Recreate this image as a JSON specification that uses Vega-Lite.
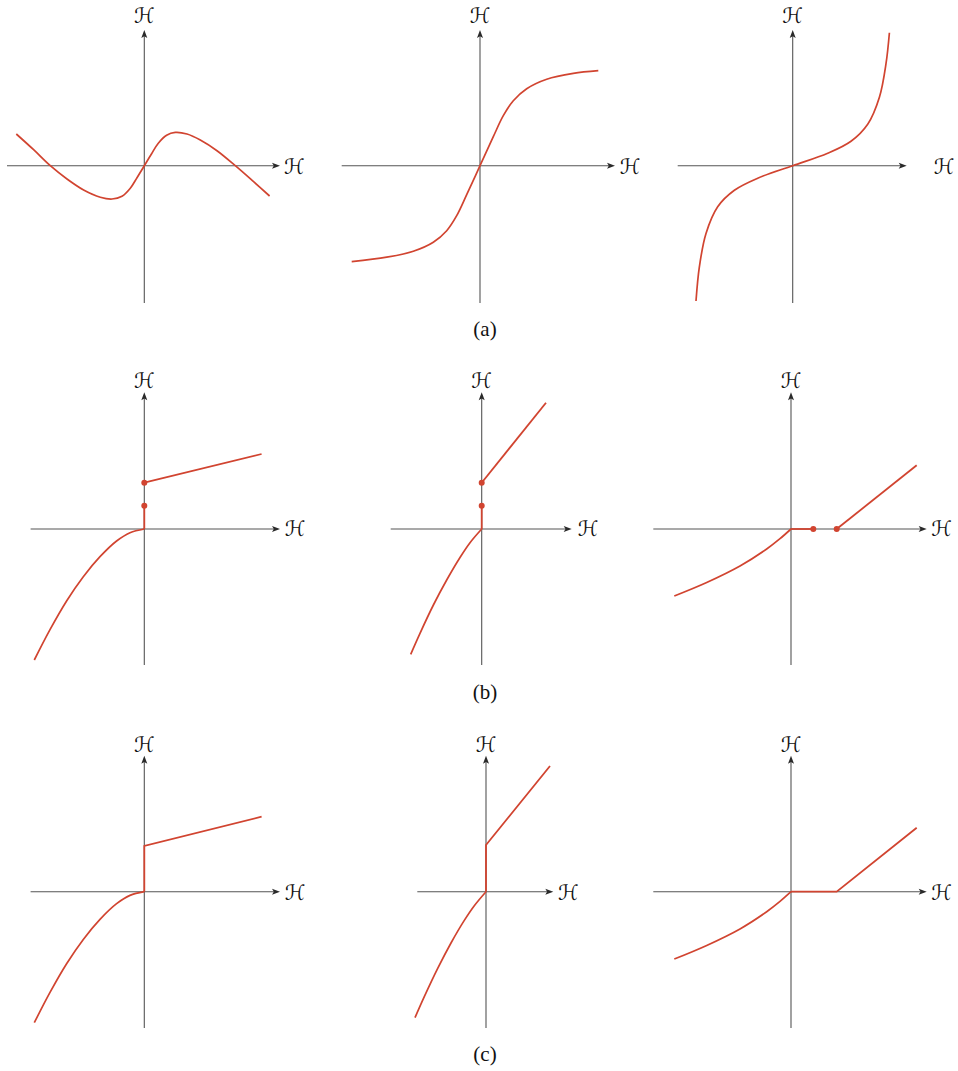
{
  "$schema": "https://vega.github.io/schema/vega-lite/v6.json",
  "padding": 0,
  "spacing": 0,
  "config": {"view": {"stroke": null}, "background": "white"},
  "datasets": {
    "a1": [
      {"k":"ax","x":-1.373,"y":0,"x2":1.33,"y2":0},{"k":"ax","x":0,"y":-1.373,"x2":0,"y2":1.33},
      {"k":"ar","x":1.317,"y":0},{"k":"au","x":0,"y":1.317},
      {"k":"lb","x":0,"y":1.49,"t":"ℋ"},{"k":"lb","x":1.5,"y":-0.02,"t":"ℋ"},
      {"k":"cv","s":1,"i":1,"x":-1.28,"y":0.317},{"k":"cv","s":1,"i":2,"x":-1.107,"y":0.16},{"k":"cv","s":1,"i":3,"x":-0.94,"y":0},
      {"k":"cv","s":1,"i":4,"x":-0.773,"y":-0.133},{"k":"cv","s":1,"i":5,"x":-0.607,"y":-0.243},{"k":"cv","s":1,"i":6,"x":-0.44,"y":-0.315},
      {"k":"cv","s":1,"i":7,"x":-0.323,"y":-0.333},{"k":"cv","s":1,"i":8,"x":-0.223,"y":-0.305},{"k":"cv","s":1,"i":9,"x":-0.14,"y":-0.225},
      {"k":"cv","s":1,"i":10,"x":-0.073,"y":-0.12},{"k":"cv","s":1,"i":11,"x":0,"y":0},{"k":"cv","s":1,"i":12,"x":0.073,"y":0.12},
      {"k":"cv","s":1,"i":13,"x":0.14,"y":0.225},{"k":"cv","s":1,"i":14,"x":0.223,"y":0.305},{"k":"cv","s":1,"i":15,"x":0.31,"y":0.333},
      {"k":"cv","s":1,"i":16,"x":0.427,"y":0.317},{"k":"cv","s":1,"i":17,"x":0.56,"y":0.257},{"k":"cv","s":1,"i":18,"x":0.727,"y":0.15},
      {"k":"cv","s":1,"i":19,"x":0.91,"y":0},{"k":"cv","s":1,"i":20,"x":1.093,"y":-0.16},{"k":"cv","s":1,"i":21,"x":1.253,"y":-0.303}
    ],
    "a2": [
      {"k":"ax","x":-1.383,"y":0,"x2":1.32,"y2":0},{"k":"ax","x":0,"y":-1.373,"x2":0,"y2":1.33},
      {"k":"ar","x":1.31,"y":0},{"k":"au","x":0,"y":1.317},
      {"k":"lb","x":0,"y":1.49,"t":"ℋ"},{"k":"lb","x":1.5,"y":-0.02,"t":"ℋ"},
      {"k":"cap","x":0.05,"y":-1.643,"t":"(a)"},
      {"k":"cv","s":1,"i":1,"x":-1.283,"y":-0.96},{"k":"cv","s":1,"i":2,"x":-0.933,"y":-0.915},{"k":"cv","s":1,"i":3,"x":-0.667,"y":-0.855},
      {"k":"cv","s":1,"i":4,"x":-0.467,"y":-0.765},{"k":"cv","s":1,"i":5,"x":-0.333,"y":-0.65},{"k":"cv","s":1,"i":6,"x":-0.233,"y":-0.5},
      {"k":"cv","s":1,"i":7,"x":-0.133,"y":-0.29},{"k":"cv","s":1,"i":8,"x":0,"y":0},{"k":"cv","s":1,"i":9,"x":0.133,"y":0.29},
      {"k":"cv","s":1,"i":10,"x":0.233,"y":0.5},{"k":"cv","s":1,"i":11,"x":0.333,"y":0.65},{"k":"cv","s":1,"i":12,"x":0.467,"y":0.77},
      {"k":"cv","s":1,"i":13,"x":0.667,"y":0.865},{"k":"cv","s":1,"i":14,"x":0.933,"y":0.923},{"k":"cv","s":1,"i":15,"x":1.183,"y":0.95}
    ],
    "a3": [
      {"k":"ax","x":-1.15,"y":0,"x2":1.11,"y2":0},{"k":"ax","x":0,"y":-1.373,"x2":0,"y2":1.33},
      {"k":"ar","x":1.10,"y":0},{"k":"au","x":0,"y":1.317},
      {"k":"lb","x":0,"y":1.49,"t":"ℋ"},{"k":"lb","x":1.513,"y":-0.02,"t":"ℋ"},
      {"k":"cv","s":1,"i":1,"x":-0.967,"y":-1.353},{"k":"cv","s":1,"i":2,"x":-0.933,"y":-1.01},{"k":"cv","s":1,"i":3,"x":-0.867,"y":-0.677},
      {"k":"cv","s":1,"i":4,"x":-0.75,"y":-0.41},{"k":"cv","s":1,"i":5,"x":-0.583,"y":-0.245},{"k":"cv","s":1,"i":6,"x":-0.35,"y":-0.125},
      {"k":"cv","s":1,"i":7,"x":0,"y":0},{"k":"cv","s":1,"i":8,"x":0.35,"y":0.125},{"k":"cv","s":1,"i":9,"x":0.583,"y":0.245},
      {"k":"cv","s":1,"i":10,"x":0.75,"y":0.415},{"k":"cv","s":1,"i":11,"x":0.867,"y":0.685},{"k":"cv","s":1,"i":12,"x":0.933,"y":1.02},
      {"k":"cv","s":1,"i":13,"x":0.967,"y":1.33}
    ],
    "b1": [
      {"k":"ax","x":-1.137,"y":0,"x2":1.33,"y2":0},{"k":"ax","x":0,"y":-1.36,"x2":0,"y2":1.34},
      {"k":"ar","x":1.317,"y":0},{"k":"au","x":0,"y":1.327},
      {"k":"lb","x":0,"y":1.47,"t":"ℋ"},{"k":"lb","x":1.507,"y":-0.01,"t":"ℋ"},
      {"k":"cv","s":1,"i":1,"x":-1.10,"y":-1.31},{"k":"cv","s":1,"i":2,"x":-0.943,"y":-1.007},{"k":"cv","s":1,"i":3,"x":-0.777,"y":-0.72},
      {"k":"cv","s":1,"i":4,"x":-0.61,"y":-0.477},{"k":"cv","s":1,"i":5,"x":-0.443,"y":-0.277},{"k":"cv","s":1,"i":6,"x":-0.277,"y":-0.12},
      {"k":"cv","s":1,"i":7,"x":-0.143,"y":-0.037},{"k":"cv","s":1,"i":8,"x":0,"y":0},
      {"k":"ln","s":2,"i":1,"x":0,"y":0},{"k":"ln","s":2,"i":2,"x":0,"y":0.233},
      {"k":"ln","s":3,"i":1,"x":0,"y":0.463},{"k":"ln","s":3,"i":2,"x":1.173,"y":0.75},
      {"k":"dot","x":0,"y":0.233},{"k":"dot","x":0,"y":0.463}
    ],
    "b2": [
      {"k":"ax","x":-0.91,"y":0,"x2":0.87,"y2":0},{"k":"ax","x":0,"y":-1.36,"x2":0,"y2":1.34},
      {"k":"ar","x":0.86,"y":0},{"k":"au","x":0,"y":1.327},
      {"k":"lb","x":0,"y":1.47,"t":"ℋ"},{"k":"lb","x":1.063,"y":-0.01,"t":"ℋ"},
      {"k":"cap","x":0.033,"y":-1.64,"t":"(b)"},
      {"k":"cv","s":1,"i":1,"x":-0.71,"y":-1.253},{"k":"cv","s":1,"i":2,"x":-0.617,"y":-1.043},{"k":"cv","s":1,"i":3,"x":-0.483,"y":-0.76},
      {"k":"cv","s":1,"i":4,"x":-0.35,"y":-0.51},{"k":"cv","s":1,"i":5,"x":-0.217,"y":-0.285},{"k":"cv","s":1,"i":6,"x":-0.117,"y":-0.137},
      {"k":"cv","s":1,"i":7,"x":0,"y":0},
      {"k":"ln","s":2,"i":1,"x":0,"y":0},{"k":"ln","s":2,"i":2,"x":0,"y":0.233},
      {"k":"ln","s":3,"i":1,"x":0,"y":0.463},{"k":"ln","s":3,"i":2,"x":0.643,"y":1.263},
      {"k":"dot","x":0,"y":0.233},{"k":"dot","x":0,"y":0.463}
    ],
    "b3": [
      {"k":"ax","x":-1.377,"y":0,"x2":1.33,"y2":0},{"k":"ax","x":0,"y":-1.36,"x2":0,"y2":1.34},
      {"k":"ar","x":1.317,"y":0},{"k":"au","x":0,"y":1.327},
      {"k":"lb","x":0,"y":1.47,"t":"ℋ"},{"k":"lb","x":1.507,"y":-0.01,"t":"ℋ"},
      {"k":"cv","s":1,"i":1,"x":-1.167,"y":-0.67},{"k":"cv","s":1,"i":2,"x":-0.843,"y":-0.535},{"k":"cv","s":1,"i":3,"x":-0.51,"y":-0.37},
      {"k":"cv","s":1,"i":4,"x":-0.243,"y":-0.2},{"k":"cv","s":1,"i":5,"x":-0.11,"y":-0.097},{"k":"cv","s":1,"i":6,"x":0,"y":0},
      {"k":"ln","s":2,"i":1,"x":0,"y":0},{"k":"ln","s":2,"i":2,"x":0.223,"y":0},
      {"k":"ln","s":3,"i":1,"x":0.457,"y":0},{"k":"ln","s":3,"i":2,"x":1.257,"y":0.637},
      {"k":"dot","x":0.223,"y":0},{"k":"dot","x":0.457,"y":0}
    ],
    "c1": [
      {"k":"ax","x":-1.137,"y":0,"x2":1.33,"y2":0},{"k":"ax","x":0,"y":-1.363,"x2":0,"y2":1.33},
      {"k":"ar","x":1.317,"y":0},{"k":"au","x":0,"y":1.32},
      {"k":"lb","x":0,"y":1.46,"t":"ℋ"},{"k":"lb","x":1.507,"y":-0.02,"t":"ℋ"},
      {"k":"cv","s":1,"i":1,"x":-1.10,"y":-1.31},{"k":"cv","s":1,"i":2,"x":-0.943,"y":-1.007},{"k":"cv","s":1,"i":3,"x":-0.777,"y":-0.72},
      {"k":"cv","s":1,"i":4,"x":-0.61,"y":-0.477},{"k":"cv","s":1,"i":5,"x":-0.443,"y":-0.277},{"k":"cv","s":1,"i":6,"x":-0.277,"y":-0.12},
      {"k":"cv","s":1,"i":7,"x":-0.143,"y":-0.037},{"k":"cv","s":1,"i":8,"x":0,"y":0},
      {"k":"ln","s":2,"i":1,"x":0,"y":0},{"k":"ln","s":2,"i":2,"x":0,"y":0.457},{"k":"ln","s":2,"i":3,"x":1.173,"y":0.75}
    ],
    "c2": [
      {"k":"ax","x":-0.687,"y":0,"x2":0.643,"y2":0},{"k":"ax","x":0,"y":-1.363,"x2":0,"y2":1.33},
      {"k":"ar","x":0.633,"y":0},{"k":"au","x":0,"y":1.32},
      {"k":"lb","x":0,"y":1.46,"t":"ℋ"},{"k":"lb","x":0.823,"y":-0.02,"t":"ℋ"},
      {"k":"cap","x":-0.01,"y":-1.633,"t":"(c)"},
      {"k":"cv","s":1,"i":1,"x":-0.71,"y":-1.26},{"k":"cv","s":1,"i":2,"x":-0.617,"y":-1.05},{"k":"cv","s":1,"i":3,"x":-0.483,"y":-0.767},
      {"k":"cv","s":1,"i":4,"x":-0.35,"y":-0.513},{"k":"cv","s":1,"i":5,"x":-0.217,"y":-0.287},{"k":"cv","s":1,"i":6,"x":-0.117,"y":-0.14},
      {"k":"cv","s":1,"i":7,"x":0,"y":0},
      {"k":"ln","s":2,"i":1,"x":0,"y":0},{"k":"ln","s":2,"i":2,"x":0,"y":0.467},{"k":"ln","s":2,"i":3,"x":0.64,"y":1.257}
    ],
    "c3": [
      {"k":"ax","x":-1.377,"y":0,"x2":1.33,"y2":0},{"k":"ax","x":0,"y":-1.363,"x2":0,"y2":1.33},
      {"k":"ar","x":1.317,"y":0},{"k":"au","x":0,"y":1.32},
      {"k":"lb","x":0,"y":1.46,"t":"ℋ"},{"k":"lb","x":1.507,"y":-0.02,"t":"ℋ"},
      {"k":"cv","s":1,"i":1,"x":-1.167,"y":-0.673},{"k":"cv","s":1,"i":2,"x":-0.843,"y":-0.537},{"k":"cv","s":1,"i":3,"x":-0.51,"y":-0.372},
      {"k":"cv","s":1,"i":4,"x":-0.243,"y":-0.2},{"k":"cv","s":1,"i":5,"x":-0.11,"y":-0.097},{"k":"cv","s":1,"i":6,"x":0,"y":0},
      {"k":"ln","s":2,"i":1,"x":0,"y":0},{"k":"ln","s":2,"i":2,"x":0.457,"y":0},{"k":"ln","s":2,"i":3,"x":1.257,"y":0.64}
    ]
  },
  "vconcat": [
    {"spacing": 0, "hconcat": [
      {"width":320,"height":350,"data":{"name":"a1"},
       "encoding":{"x":{"field":"x","type":"quantitative","axis":null,"scale":{"domain":[-1.443,1.757],"nice":false,"zero":false}},
                   "y":{"field":"y","type":"quantitative","axis":null,"scale":{"domain":[-1.843,1.657],"nice":false,"zero":false}}},
       "layer":[
        {"transform":[{"filter":"datum.k=='ax'"}],"mark":{"type":"rule","color":"#555555","strokeWidth":1.1},"encoding":{"x2":{"field":"x2"},"y2":{"field":"y2"}}},
        {"transform":[{"filter":"datum.k=='ar'"}],"mark":{"type":"point","filled":true,"color":"#2a2a2a","opacity":1,"size":64,"shape":"M1,0L-1,-0.75L-0.55,0L-1,0.75Z"}},
        {"transform":[{"filter":"datum.k=='au'"}],"mark":{"type":"point","filled":true,"color":"#2a2a2a","opacity":1,"size":64,"shape":"M0,-1L-0.75,1L0,0.55L0.75,1Z"}},
        {"transform":[{"filter":"datum.k=='cv'"}],"mark":{"type":"line","color":"#d14430","strokeWidth":1.7,"interpolate":"catmull-rom"},"encoding":{"detail":{"field":"s"},"order":{"field":"i","type":"quantitative"}}},
        {"transform":[{"filter":"datum.k=='lb'"}],"mark":{"type":"text","font":"DejaVu Sans","fontSize":21,"color":"#111111","align":"center","baseline":"middle"},"encoding":{"text":{"field":"t"}}}
       ]},
      {"width":320,"height":350,"data":{"name":"a2"},
       "encoding":{"x":{"field":"x","type":"quantitative","axis":null,"scale":{"domain":[-1.6,1.6],"nice":false,"zero":false}},
                   "y":{"field":"y","type":"quantitative","axis":null,"scale":{"domain":[-1.843,1.657],"nice":false,"zero":false}}},
       "layer":[
        {"transform":[{"filter":"datum.k=='ax'"}],"mark":{"type":"rule","color":"#555555","strokeWidth":1.1},"encoding":{"x2":{"field":"x2"},"y2":{"field":"y2"}}},
        {"transform":[{"filter":"datum.k=='ar'"}],"mark":{"type":"point","filled":true,"color":"#2a2a2a","opacity":1,"size":64,"shape":"M1,0L-1,-0.75L-0.55,0L-1,0.75Z"}},
        {"transform":[{"filter":"datum.k=='au'"}],"mark":{"type":"point","filled":true,"color":"#2a2a2a","opacity":1,"size":64,"shape":"M0,-1L-0.75,1L0,0.55L0.75,1Z"}},
        {"transform":[{"filter":"datum.k=='cv'"}],"mark":{"type":"line","color":"#d14430","strokeWidth":1.7,"interpolate":"catmull-rom"},"encoding":{"detail":{"field":"s"},"order":{"field":"i","type":"quantitative"}}},
        {"transform":[{"filter":"datum.k=='lb'"}],"mark":{"type":"text","font":"DejaVu Sans","fontSize":21,"color":"#111111","align":"center","baseline":"middle"},"encoding":{"text":{"field":"t"}}},
        {"transform":[{"filter":"datum.k=='cap'"}],"mark":{"type":"text","font":"Liberation Serif, Times New Roman, serif","fontSize":21,"color":"#111111","align":"center","baseline":"middle"},"encoding":{"text":{"field":"t"}}}
       ]},
      {"width":318,"height":350,"data":{"name":"a3"},
       "encoding":{"x":{"field":"x","type":"quantitative","axis":null,"scale":{"domain":[-1.517,1.663],"nice":false,"zero":false}},
                   "y":{"field":"y","type":"quantitative","axis":null,"scale":{"domain":[-1.843,1.657],"nice":false,"zero":false}}},
       "layer":[
        {"transform":[{"filter":"datum.k=='ax'"}],"mark":{"type":"rule","color":"#555555","strokeWidth":1.1},"encoding":{"x2":{"field":"x2"},"y2":{"field":"y2"}}},
        {"transform":[{"filter":"datum.k=='ar'"}],"mark":{"type":"point","filled":true,"color":"#2a2a2a","opacity":1,"size":64,"shape":"M1,0L-1,-0.75L-0.55,0L-1,0.75Z"}},
        {"transform":[{"filter":"datum.k=='au'"}],"mark":{"type":"point","filled":true,"color":"#2a2a2a","opacity":1,"size":64,"shape":"M0,-1L-0.75,1L0,0.55L0.75,1Z"}},
        {"transform":[{"filter":"datum.k=='cv'"}],"mark":{"type":"line","color":"#d14430","strokeWidth":1.7,"interpolate":"catmull-rom"},"encoding":{"detail":{"field":"s"},"order":{"field":"i","type":"quantitative"}}},
        {"transform":[{"filter":"datum.k=='lb'"}],"mark":{"type":"text","font":"DejaVu Sans","fontSize":21,"color":"#111111","align":"center","baseline":"middle"},"encoding":{"text":{"field":"t"}}}
       ]}
    ]},
    {"spacing": 0, "hconcat": [
      {"width":320,"height":362,"data":{"name":"b1"},
       "encoding":{"x":{"field":"x","type":"quantitative","axis":null,"scale":{"domain":[-1.443,1.757],"nice":false,"zero":false}},
                   "y":{"field":"y","type":"quantitative","axis":null,"scale":{"domain":[-1.83,1.79],"nice":false,"zero":false}}},
       "layer":[
        {"transform":[{"filter":"datum.k=='ax'"}],"mark":{"type":"rule","color":"#555555","strokeWidth":1.1},"encoding":{"x2":{"field":"x2"},"y2":{"field":"y2"}}},
        {"transform":[{"filter":"datum.k=='ar'"}],"mark":{"type":"point","filled":true,"color":"#2a2a2a","opacity":1,"size":64,"shape":"M1,0L-1,-0.75L-0.55,0L-1,0.75Z"}},
        {"transform":[{"filter":"datum.k=='au'"}],"mark":{"type":"point","filled":true,"color":"#2a2a2a","opacity":1,"size":64,"shape":"M0,-1L-0.75,1L0,0.55L0.75,1Z"}},
        {"transform":[{"filter":"datum.k=='cv'"}],"mark":{"type":"line","color":"#d14430","strokeWidth":1.7,"interpolate":"catmull-rom"},"encoding":{"detail":{"field":"s"},"order":{"field":"i","type":"quantitative"}}},
        {"transform":[{"filter":"datum.k=='ln'"}],"mark":{"type":"line","color":"#d14430","strokeWidth":1.8},"encoding":{"detail":{"field":"s"},"order":{"field":"i","type":"quantitative"}}},
        {"transform":[{"filter":"datum.k=='dot'"}],"mark":{"type":"point","filled":true,"color":"#d14430","opacity":1,"size":36}},
        {"transform":[{"filter":"datum.k=='lb'"}],"mark":{"type":"text","font":"DejaVu Sans","fontSize":21,"color":"#111111","align":"center","baseline":"middle"},"encoding":{"text":{"field":"t"}}}
       ]},
      {"width":320,"height":362,"data":{"name":"b2"},
       "encoding":{"x":{"field":"x","type":"quantitative","axis":null,"scale":{"domain":[-1.617,1.583],"nice":false,"zero":false}},
                   "y":{"field":"y","type":"quantitative","axis":null,"scale":{"domain":[-1.83,1.79],"nice":false,"zero":false}}},
       "layer":[
        {"transform":[{"filter":"datum.k=='ax'"}],"mark":{"type":"rule","color":"#555555","strokeWidth":1.1},"encoding":{"x2":{"field":"x2"},"y2":{"field":"y2"}}},
        {"transform":[{"filter":"datum.k=='ar'"}],"mark":{"type":"point","filled":true,"color":"#2a2a2a","opacity":1,"size":64,"shape":"M1,0L-1,-0.75L-0.55,0L-1,0.75Z"}},
        {"transform":[{"filter":"datum.k=='au'"}],"mark":{"type":"point","filled":true,"color":"#2a2a2a","opacity":1,"size":64,"shape":"M0,-1L-0.75,1L0,0.55L0.75,1Z"}},
        {"transform":[{"filter":"datum.k=='cv'"}],"mark":{"type":"line","color":"#d14430","strokeWidth":1.7,"interpolate":"catmull-rom"},"encoding":{"detail":{"field":"s"},"order":{"field":"i","type":"quantitative"}}},
        {"transform":[{"filter":"datum.k=='ln'"}],"mark":{"type":"line","color":"#d14430","strokeWidth":1.8},"encoding":{"detail":{"field":"s"},"order":{"field":"i","type":"quantitative"}}},
        {"transform":[{"filter":"datum.k=='dot'"}],"mark":{"type":"point","filled":true,"color":"#d14430","opacity":1,"size":36}},
        {"transform":[{"filter":"datum.k=='lb'"}],"mark":{"type":"text","font":"DejaVu Sans","fontSize":21,"color":"#111111","align":"center","baseline":"middle"},"encoding":{"text":{"field":"t"}}},
        {"transform":[{"filter":"datum.k=='cap'"}],"mark":{"type":"text","font":"Liberation Serif, Times New Roman, serif","fontSize":21,"color":"#111111","align":"center","baseline":"middle"},"encoding":{"text":{"field":"t"}}}
       ]},
      {"width":318,"height":362,"data":{"name":"b3"},
       "encoding":{"x":{"field":"x","type":"quantitative","axis":null,"scale":{"domain":[-1.51,1.67],"nice":false,"zero":false}},
                   "y":{"field":"y","type":"quantitative","axis":null,"scale":{"domain":[-1.83,1.79],"nice":false,"zero":false}}},
       "layer":[
        {"transform":[{"filter":"datum.k=='ax'"}],"mark":{"type":"rule","color":"#555555","strokeWidth":1.1},"encoding":{"x2":{"field":"x2"},"y2":{"field":"y2"}}},
        {"transform":[{"filter":"datum.k=='ar'"}],"mark":{"type":"point","filled":true,"color":"#2a2a2a","opacity":1,"size":64,"shape":"M1,0L-1,-0.75L-0.55,0L-1,0.75Z"}},
        {"transform":[{"filter":"datum.k=='au'"}],"mark":{"type":"point","filled":true,"color":"#2a2a2a","opacity":1,"size":64,"shape":"M0,-1L-0.75,1L0,0.55L0.75,1Z"}},
        {"transform":[{"filter":"datum.k=='cv'"}],"mark":{"type":"line","color":"#d14430","strokeWidth":1.7,"interpolate":"catmull-rom"},"encoding":{"detail":{"field":"s"},"order":{"field":"i","type":"quantitative"}}},
        {"transform":[{"filter":"datum.k=='ln'"}],"mark":{"type":"line","color":"#d14430","strokeWidth":1.8},"encoding":{"detail":{"field":"s"},"order":{"field":"i","type":"quantitative"}}},
        {"transform":[{"filter":"datum.k=='dot'"}],"mark":{"type":"point","filled":true,"color":"#d14430","opacity":1,"size":36}},
        {"transform":[{"filter":"datum.k=='lb'"}],"mark":{"type":"text","font":"DejaVu Sans","fontSize":21,"color":"#111111","align":"center","baseline":"middle"},"encoding":{"text":{"field":"t"}}}
       ]}
    ]},
    {"spacing": 0, "hconcat": [
      {"width":320,"height":359,"data":{"name":"c1"},
       "encoding":{"x":{"field":"x","type":"quantitative","axis":null,"scale":{"domain":[-1.443,1.757],"nice":false,"zero":false}},
                   "y":{"field":"y","type":"quantitative","axis":null,"scale":{"domain":[-1.793,1.797],"nice":false,"zero":false}}},
       "layer":[
        {"transform":[{"filter":"datum.k=='ax'"}],"mark":{"type":"rule","color":"#555555","strokeWidth":1.1},"encoding":{"x2":{"field":"x2"},"y2":{"field":"y2"}}},
        {"transform":[{"filter":"datum.k=='ar'"}],"mark":{"type":"point","filled":true,"color":"#2a2a2a","opacity":1,"size":64,"shape":"M1,0L-1,-0.75L-0.55,0L-1,0.75Z"}},
        {"transform":[{"filter":"datum.k=='au'"}],"mark":{"type":"point","filled":true,"color":"#2a2a2a","opacity":1,"size":64,"shape":"M0,-1L-0.75,1L0,0.55L0.75,1Z"}},
        {"transform":[{"filter":"datum.k=='cv'"}],"mark":{"type":"line","color":"#d14430","strokeWidth":1.7,"interpolate":"catmull-rom"},"encoding":{"detail":{"field":"s"},"order":{"field":"i","type":"quantitative"}}},
        {"transform":[{"filter":"datum.k=='ln'"}],"mark":{"type":"line","color":"#d14430","strokeWidth":1.8},"encoding":{"detail":{"field":"s"},"order":{"field":"i","type":"quantitative"}}},
        {"transform":[{"filter":"datum.k=='lb'"}],"mark":{"type":"text","font":"DejaVu Sans","fontSize":21,"color":"#111111","align":"center","baseline":"middle"},"encoding":{"text":{"field":"t"}}}
       ]},
      {"width":320,"height":359,"data":{"name":"c2"},
       "encoding":{"x":{"field":"x","type":"quantitative","axis":null,"scale":{"domain":[-1.66,1.54],"nice":false,"zero":false}},
                   "y":{"field":"y","type":"quantitative","axis":null,"scale":{"domain":[-1.793,1.797],"nice":false,"zero":false}}},
       "layer":[
        {"transform":[{"filter":"datum.k=='ax'"}],"mark":{"type":"rule","color":"#555555","strokeWidth":1.1},"encoding":{"x2":{"field":"x2"},"y2":{"field":"y2"}}},
        {"transform":[{"filter":"datum.k=='ar'"}],"mark":{"type":"point","filled":true,"color":"#2a2a2a","opacity":1,"size":64,"shape":"M1,0L-1,-0.75L-0.55,0L-1,0.75Z"}},
        {"transform":[{"filter":"datum.k=='au'"}],"mark":{"type":"point","filled":true,"color":"#2a2a2a","opacity":1,"size":64,"shape":"M0,-1L-0.75,1L0,0.55L0.75,1Z"}},
        {"transform":[{"filter":"datum.k=='cv'"}],"mark":{"type":"line","color":"#d14430","strokeWidth":1.7,"interpolate":"catmull-rom"},"encoding":{"detail":{"field":"s"},"order":{"field":"i","type":"quantitative"}}},
        {"transform":[{"filter":"datum.k=='ln'"}],"mark":{"type":"line","color":"#d14430","strokeWidth":1.8},"encoding":{"detail":{"field":"s"},"order":{"field":"i","type":"quantitative"}}},
        {"transform":[{"filter":"datum.k=='lb'"}],"mark":{"type":"text","font":"DejaVu Sans","fontSize":21,"color":"#111111","align":"center","baseline":"middle"},"encoding":{"text":{"field":"t"}}},
        {"transform":[{"filter":"datum.k=='cap'"}],"mark":{"type":"text","font":"Liberation Serif, Times New Roman, serif","fontSize":21,"color":"#111111","align":"center","baseline":"middle"},"encoding":{"text":{"field":"t"}}}
       ]},
      {"width":318,"height":359,"data":{"name":"c3"},
       "encoding":{"x":{"field":"x","type":"quantitative","axis":null,"scale":{"domain":[-1.51,1.67],"nice":false,"zero":false}},
                   "y":{"field":"y","type":"quantitative","axis":null,"scale":{"domain":[-1.793,1.797],"nice":false,"zero":false}}},
       "layer":[
        {"transform":[{"filter":"datum.k=='ax'"}],"mark":{"type":"rule","color":"#555555","strokeWidth":1.1},"encoding":{"x2":{"field":"x2"},"y2":{"field":"y2"}}},
        {"transform":[{"filter":"datum.k=='ar'"}],"mark":{"type":"point","filled":true,"color":"#2a2a2a","opacity":1,"size":64,"shape":"M1,0L-1,-0.75L-0.55,0L-1,0.75Z"}},
        {"transform":[{"filter":"datum.k=='au'"}],"mark":{"type":"point","filled":true,"color":"#2a2a2a","opacity":1,"size":64,"shape":"M0,-1L-0.75,1L0,0.55L0.75,1Z"}},
        {"transform":[{"filter":"datum.k=='cv'"}],"mark":{"type":"line","color":"#d14430","strokeWidth":1.7,"interpolate":"catmull-rom"},"encoding":{"detail":{"field":"s"},"order":{"field":"i","type":"quantitative"}}},
        {"transform":[{"filter":"datum.k=='ln'"}],"mark":{"type":"line","color":"#d14430","strokeWidth":1.8},"encoding":{"detail":{"field":"s"},"order":{"field":"i","type":"quantitative"}}},
        {"transform":[{"filter":"datum.k=='lb'"}],"mark":{"type":"text","font":"DejaVu Sans","fontSize":21,"color":"#111111","align":"center","baseline":"middle"},"encoding":{"text":{"field":"t"}}}
       ]}
    ]}
  ]
}
